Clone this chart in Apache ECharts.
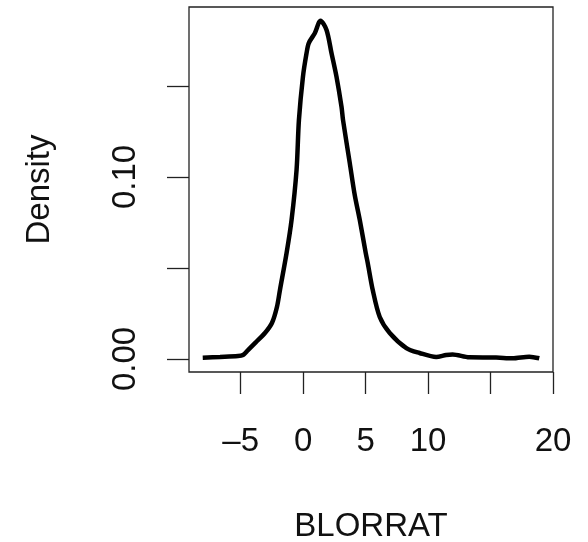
<!DOCTYPE html>
<html>
<head>
<meta charset="utf-8">
<script src="https://cdn.jsdelivr.net/npm/echarts@6/dist/echarts.min.js"></script>
<style>html,body{margin:0;padding:0;background:#fff}#c{width:588px;height:542px}</style>
</head>
<body>
<div id="c"></div>
<script>
// Density estimate of BLORRAT
var blorrat = [-8.04, -6.65, -5.22, -4.82, -4.42, -3.78, -3.06, -2.50, -2.10, -1.86, -1.33, -0.93, -0.53, -0.34, -0.02, 0.27, 0.45, 0.93, 1.39, 1.87, 2.27, 2.67, 3.07, 3.19, 3.73, 4.13, 4.53, 5.01, 5.17, 5.57, 6.13, 6.93, 8.26, 9.32, 10.65, 11.45, 11.96, 13.3, 15.45, 16.75, 18.1, 18.9];
var density = [0.0007, 0.0011, 0.0016, 0.0022, 0.0049, 0.0093, 0.0143, 0.0198, 0.0286, 0.0379, 0.0582, 0.0764, 0.1038, 0.1313, 0.155, 0.168, 0.1736, 0.179, 0.1859, 0.1808, 0.168, 0.155, 0.1385, 0.1313, 0.1077, 0.090, 0.0764, 0.0582, 0.0527, 0.0379, 0.0231, 0.0143, 0.0060, 0.0033, 0.0011, 0.0022, 0.0025, 0.0009, 0.0008, 0.0004, 0.0013, 0.0004];
var xTicks = [-5, 0, 5, 10, 15, 20];
var xTickLabels = [-5, 0, 5, 10, 20];
var yTicks = [0, 0.05, 0.10, 0.15];
var yTickLabels = [0, 0.10];
var xTitle = 'BLORRAT';
var yTitle = 'Density';

var pts = blorrat.map(function (x, i) { return [x, density[i]]; });
var font = 'Liberation Sans, Arial, Helvetica, sans-serif';
var chart = echarts.init(document.getElementById('c'), null, {renderer: 'canvas'});
chart.setOption({
  animation: false,
  backgroundColor: '#fff',
  grid: {left: 189, top: 7, width: 364, height: 365, containLabel: false, outerBoundsMode: 'none',
    show: true, borderColor: '#222', borderWidth: 1.3, backgroundColor: 'transparent'},
  xAxis: {
    type: 'value', min: -9.14, max: 20,
    name: xTitle, nameLocation: 'middle', nameGap: 138,
    nameTextStyle: {fontFamily: font, fontSize: 33, color: '#111'},
    axisLine: {show: false, onZero: false},
    splitLine: {show: false},
    axisTick: {show: true, inside: false, length: 22, customValues: xTicks, lineStyle: {color: '#222', width: 1.3}},
    axisLabel: {show: true, customValues: xTickLabels, margin: 53, fontFamily: font, fontSize: 33, color: '#111',
      formatter: function (v) { return v < 0 ? '\u2013' + Math.abs(v) : String(v); }}
  },
  yAxis: {
    type: 'value', min: -0.00714, max: 0.1934,
    name: yTitle, nameLocation: 'middle', nameGap: 133,
    nameTextStyle: {fontFamily: font, fontSize: 33, color: '#111'},
    axisLine: {show: false, onZero: false},
    splitLine: {show: false},
    axisTick: {show: true, inside: false, length: 22, customValues: yTicks, lineStyle: {color: '#222', width: 1.3}},
    axisLabel: {show: true, customValues: yTickLabels, rotate: 90, margin: 47, fontFamily: font, fontSize: 33, color: '#111',
      formatter: function (v) { return v.toFixed(2); }}
  },
  series: [{
    type: 'line', data: pts, showSymbol: false, smooth: 0.3,
    lineStyle: {color: '#000', width: 4.5}
  }]
});
</script>
</body>
</html>
